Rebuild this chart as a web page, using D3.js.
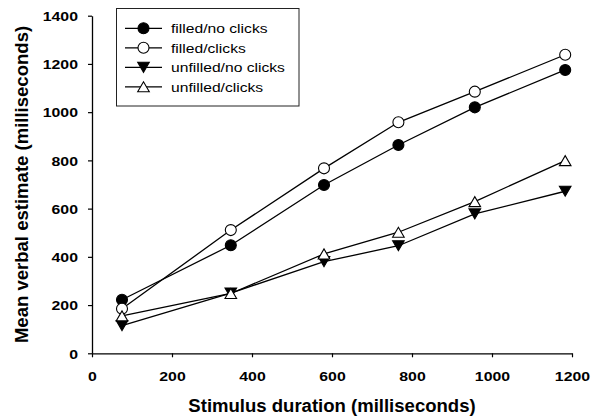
<!DOCTYPE html>
<html>
<head>
<meta charset="utf-8">
<script src="https://cdn.jsdelivr.net/npm/d3@7"></script>
<style>
  html, body { margin: 0; padding: 0; background: #fff; }
  svg { display: block; }
  text { font-family: "Liberation Sans", Arial, sans-serif; fill: #000; }
</style>
</head>
<body>
<svg id="chart" width="593" height="417"></svg>
<script>
// Stimulus durations (ms) on the x axis
const durations = [75, 347, 580, 766, 957, 1183];

// Mean verbal estimates (ms) for each condition
const filledNoClicks   = [222, 448, 698, 864, 1020, 1175];
const filledClicks     = [185, 511, 767, 958, 1085, 1238];
const unfilledNoClicks = [115, 250, 380, 446, 578, 672];
const unfilledClicks   = [155, 248, 412, 502, 629, 799];

const seriesNames = ["filled/no clicks", "filled/clicks", "unfilled/no clicks", "unfilled/clicks"];
const seriesValues = [filledNoClicks, filledClicks, unfilledNoClicks, unfilledClicks];

const xTicks = [0, 200, 400, 600, 800, 1000, 1200];
const yTicks = [0, 200, 400, 600, 800, 1000, 1200, 1400];

const xTitle = "Stimulus duration (milliseconds)";
const yTitle = "Mean verbal estimate (milliseconds)";

// marker style per series: shape and fill
const markers = [
  { shape: "circle", fill: "#000" },
  { shape: "circle", fill: "#fff" },
  { shape: "down",   fill: "#000" },
  { shape: "up",     fill: "#fff" }
];

const svg = d3.select("#chart");
const plot = { left: 92, right: 572, top: 15.7, bottom: 353.3 };

const x = d3.scaleLinear().domain([0, 1200]).range([plot.left, plot.right]);
const y = d3.scaleLinear().domain([0, 1400]).range([plot.bottom, plot.top]);

// horizontally widened lettering
const tickSX = 1.22, titleSX = 1.06, legendSX = 1.16;

// axes
const xAxis = d3.axisBottom(x).tickValues(xTicks).tickSize(4).tickSizeOuter(0).tickFormat(d3.format("d"));
const yAxis = d3.axisLeft(y).tickValues(yTicks).tickSize(4).tickSizeOuter(0).tickFormat(d3.format("d"));

const gx = svg.append("g").attr("transform", `translate(0,${plot.bottom})`).call(xAxis);
const gy = svg.append("g").attr("transform", `translate(${plot.left},0)`).call(yAxis);

[gx, gy].forEach(g => {
  g.select(".domain").attr("stroke", "#000").attr("stroke-width", 1.3);
  g.selectAll(".tick line").attr("stroke", "#000").attr("stroke-width", 1.2);
  g.selectAll(".tick text")
    .attr("font-family", "Liberation Sans, Arial, sans-serif")
    .attr("font-weight", "bold")
    .attr("font-size", 13)
    .attr("fill", "#000");
});

gx.selectAll(".tick text")
  .attr("y", 27.4).attr("dy", 0).attr("x", 0)
  .attr("transform", `scale(${tickSX},1)`);

gy.selectAll(".tick text")
  .attr("x", -14 / tickSX).attr("dy", 0).attr("y", 4.7)
  .attr("transform", `scale(${tickSX},1)`);

// axis titles
svg.append("text")
  .attr("transform", `translate(${(plot.left + plot.right) / 2},412.3) scale(${titleSX},1)`)
  .attr("text-anchor", "middle")
  .attr("font-weight", "bold")
  .attr("font-size", 17.5)
  .text(xTitle);

svg.append("text")
  .attr("transform", `translate(27.5,${(plot.top + plot.bottom) / 2}) rotate(-90) scale(${titleSX},1)`)
  .attr("text-anchor", "middle")
  .attr("font-weight", "bold")
  .attr("font-size", 17.5)
  .text(yTitle);

// marker drawing helper
function drawMarker(g, m, cx, cy) {
  if (m.shape === "circle") {
    g.append("circle").attr("cx", cx).attr("cy", cy).attr("r", 5.5)
      .attr("fill", m.fill).attr("stroke", "#000").attr("stroke-width", 1.1);
  } else {
    const hw = 5.8, hh = 5;
    const pts = m.shape === "down"
      ? [[cx - hw, cy - hh], [cx + hw, cy - hh], [cx, cy + hh]]
      : [[cx - hw, cy + hh], [cx + hw, cy + hh], [cx, cy - hh]];
    g.append("path").attr("d", d3.line()(pts) + "Z")
      .attr("fill", m.fill).attr("stroke", "#000").attr("stroke-width", 1.1);
  }
}

// series lines then markers
const line = d3.line().x(d => x(d[0])).y(d => y(d[1]));
const linesG = svg.append("g");
const marksG = svg.append("g");

seriesValues.forEach((vals, i) => {
  const pts = durations.map((d, j) => [d, vals[j]]);
  linesG.append("path").attr("d", line(pts))
    .attr("fill", "none").attr("stroke", "#000").attr("stroke-width", 1.3);
  pts.forEach(p => drawMarker(marksG, markers[i], x(p[0]), y(p[1])));
});

// legend
const legend = svg.append("g");
legend.append("rect")
  .attr("x", 116.5).attr("y", 8.5).attr("width", 182.5).attr("height", 97.5)
  .attr("fill", "#fff").attr("stroke", "#222").attr("stroke-width", 1);

const rowY = [28.3, 47.8, 67.3, 86.8];
seriesNames.forEach((name, i) => {
  const cy = rowY[i];
  legend.append("line").attr("x1", 125).attr("x2", 162).attr("y1", cy).attr("y2", cy)
    .attr("stroke", "#000").attr("stroke-width", 1.3);
  drawMarker(legend, markers[i], 143.5, cy);
  legend.append("text")
    .attr("transform", `translate(171,${cy + 5}) scale(${legendSX},1)`)
    .attr("font-size", 13.5)
    .text(name);
});
</script>
</body>
</html>
